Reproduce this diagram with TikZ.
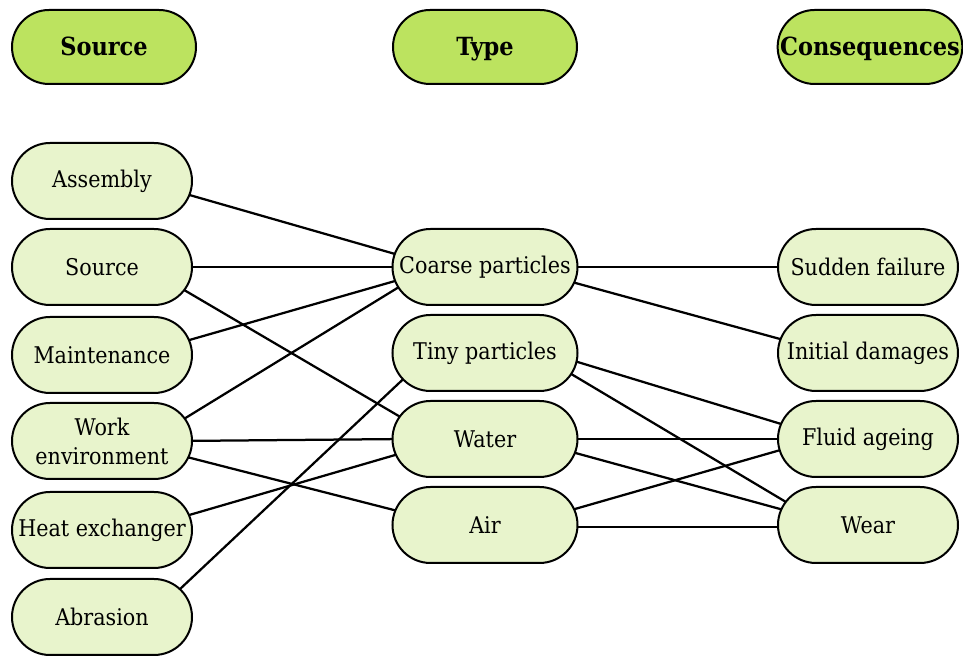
\documentclass[tikz,border=0pt]{standalone}
\usepackage{fontspec}
\setmainfont[FakeStretch=0.9]{DejaVu Serif}
\usepackage{xcolor}
\usepackage{tikz}
\usetikzlibrary{calc,backgrounds}
\definecolor{headc}{HTML}{BCE35F}
\definecolor{itemc}{HTML}{E8F4CC}
\tikzset{
  hdr/.style={draw=black,line width=0.8pt,rounded corners=14.8pt,fill=headc,minimum width=73.6pt,minimum height=29.6pt,inner xsep=1pt,text height=7.4pt,text depth=0.2pt,font=\fontsize{10}{12}\selectfont\bfseries},
  item/.style={draw=black,line width=0.8pt,rounded corners=15.2pt,fill=itemc,minimum width=72pt,minimum height=30.4pt,inner xsep=1pt,align=center,font=\fontsize{9.2}{11.6}\selectfont},
  wide/.style={minimum width=74pt},
  link/.style={line width=0.9pt,black}
}
\begin{document}
\begin{tikzpicture}[x=0.4pt,y=-0.4pt]
\useasboundingbox (0,0) rectangle (963,657);
% column headers
\node[hdr] (hsrc) at (104,47) {Source};
\node[hdr] (htyp) at (485,47) {Type};
\node[hdr] (hcon) at (870,47) {Consequences};
% sources
\node[item] (asm) at (102,181) {Assembly};
\node[item] (src) at (102,267) {Source};
\node[item] (mnt) at (102,355) {Maintenance};
\node[item] (work) at (102,441) {Work\\environment};
\node[item] (heat) at (102,530) {Heat exchanger};
\node[item] (abr) at (102,617) {Abrasion};
% types
\node[item,wide] (coarse) at (485,267) {Coarse particles};
\node[item,wide] (tiny) at (485,353) {Tiny particles};
\node[item,wide] (water) at (485,439) {Water};
\node[item,wide] (air) at (485,525) {Air};
% consequences
\node[item] (sudden) at (868,267) {Sudden failure};
\node[item] (init) at (868,353) {Initial damages};
\node[item] (fluid) at (868,439) {Fluid ageing};
\node[item] (wear) at (868,525) {Wear};
% links, drawn behind the boxes
\begin{scope}[on background layer]
\foreach \a/\da/\b/\db in {asm/11/coarse/-10, src/0/coarse/0, src/20/water/-19,
  mnt/-12/coarse/11, work/-19/coarse/16, work/0/water/0, work/14/air/-12,
  heat/-12/water/13, abr/-27/tiny/24,
  coarse/0/sudden/0, coarse/13/init/-11, tiny/5/fluid/-12, tiny/17/wear/-20,
  water/0/fluid/0, water/11/wear/-13, air/-13/fluid/8, air/2/wear/2}
  \draw[link] ($(\a.east)+(-14,\da)$) -- ($(\b.west)+(14,\db)$);
\end{scope}
\end{tikzpicture}
\end{document}
